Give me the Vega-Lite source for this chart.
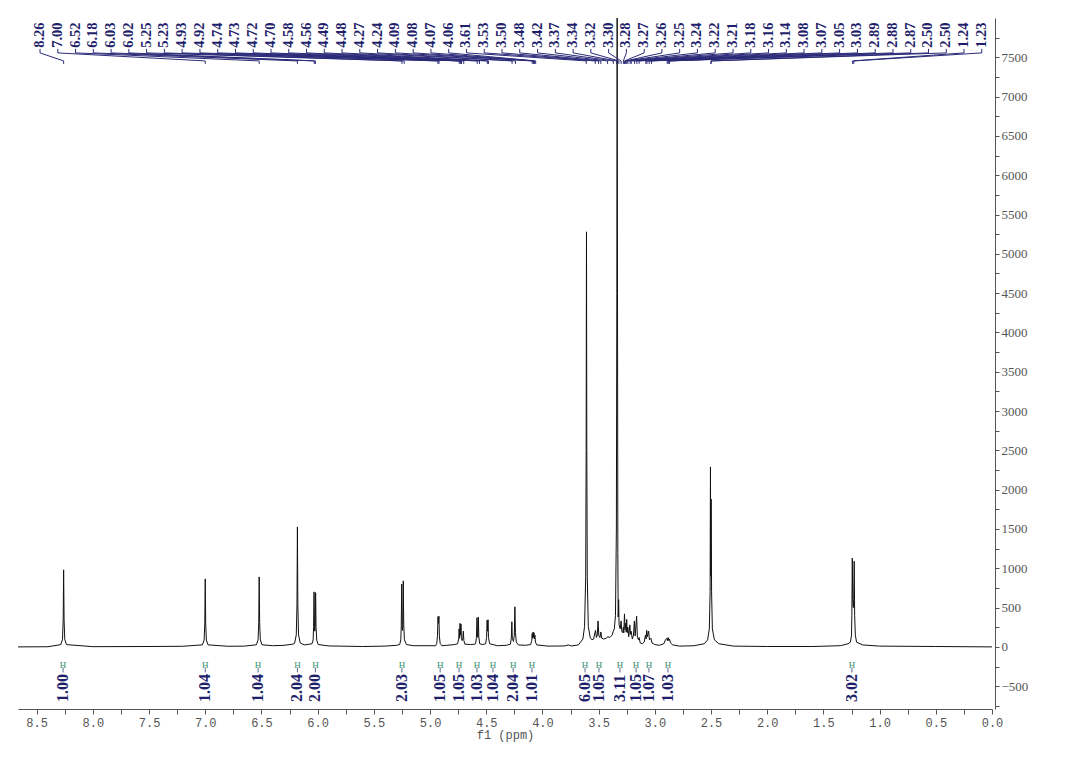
{
  "$schema": "https://vega.github.io/schema/vega-lite/v6.json",
  "width": 974,
  "height": 691,
  "autosize": {"type": "none"},
  "padding": {"left": 18, "top": 18, "right": 88, "bottom": 54},
  "background": "white",
  "config": {"view": {"stroke": null}},
  "resolve": {"axis": {"x": "independent", "y": "independent"}},
  "datasets": {
    "spec": [
      {"ppm": 8.666, "i": 0}, {"ppm": 8.4, "i": 2},
      {"ppm": 8.285, "i": 29}, {"ppm": 8.27, "i": 98}, {"ppm": 8.264, "i": 343}, {"ppm": 8.26, "i": 980}, {"ppm": 8.256, "i": 343}, {"ppm": 8.25, "i": 98}, {"ppm": 8.235, "i": 29},
      {"ppm": 8.0, "i": 3}, {"ppm": 7.5, "i": 5}, {"ppm": 7.2, "i": 8},
      {"ppm": 7.025, "i": 26}, {"ppm": 7.01, "i": 87}, {"ppm": 7.004, "i": 303}, {"ppm": 7.0, "i": 865}, {"ppm": 6.996, "i": 303}, {"ppm": 6.99, "i": 87}, {"ppm": 6.975, "i": 26},
      {"ppm": 6.8, "i": 8}, {"ppm": 6.65, "i": 10},
      {"ppm": 6.545, "i": 27}, {"ppm": 6.53, "i": 89}, {"ppm": 6.524, "i": 312}, {"ppm": 6.52, "i": 890}, {"ppm": 6.516, "i": 312}, {"ppm": 6.51, "i": 89}, {"ppm": 6.495, "i": 27},
      {"ppm": 6.4, "i": 15}, {"ppm": 6.3, "i": 20}, {"ppm": 6.22, "i": 35},
      {"ppm": 6.205, "i": 46}, {"ppm": 6.19, "i": 153}, {"ppm": 6.184, "i": 534}, {"ppm": 6.18, "i": 1526}, {"ppm": 6.176, "i": 534}, {"ppm": 6.17, "i": 153}, {"ppm": 6.155, "i": 50},
      {"ppm": 6.12, "i": 25}, {"ppm": 6.07, "i": 35},
      {"ppm": 6.05, "i": 40}, {"ppm": 6.04, "i": 90}, {"ppm": 6.036, "i": 260}, {"ppm": 6.032, "i": 700}, {"ppm": 6.028, "i": 250}, {"ppm": 6.025, "i": 200}, {"ppm": 6.022, "i": 250}, {"ppm": 6.018, "i": 690}, {"ppm": 6.014, "i": 245}, {"ppm": 6.008, "i": 85}, {"ppm": 5.995, "i": 30},
      {"ppm": 5.9, "i": 12}, {"ppm": 5.6, "i": 5}, {"ppm": 5.4, "i": 10}, {"ppm": 5.3, "i": 20},
      {"ppm": 5.27, "i": 30}, {"ppm": 5.26, "i": 90}, {"ppm": 5.256, "i": 270}, {"ppm": 5.252, "i": 800}, {"ppm": 5.248, "i": 270}, {"ppm": 5.245, "i": 210}, {"ppm": 5.242, "i": 280}, {"ppm": 5.238, "i": 840}, {"ppm": 5.234, "i": 290}, {"ppm": 5.228, "i": 90}, {"ppm": 5.21, "i": 30},
      {"ppm": 5.15, "i": 15}, {"ppm": 5.0, "i": 15},
      {"ppm": 4.95, "i": 15}, {"ppm": 4.94, "i": 45}, {"ppm": 4.934, "i": 140}, {"ppm": 4.929, "i": 385}, {"ppm": 4.925, "i": 300}, {"ppm": 4.921, "i": 390}, {"ppm": 4.917, "i": 140}, {"ppm": 4.91, "i": 45}, {"ppm": 4.895, "i": 15},
      {"ppm": 4.85, "i": 20}, {"ppm": 4.78, "i": 30},
      {"ppm": 4.755, "i": 40}, {"ppm": 4.745, "i": 100}, {"ppm": 4.741, "i": 230}, {"ppm": 4.737, "i": 110}, {"ppm": 4.733, "i": 300}, {"ppm": 4.729, "i": 150}, {"ppm": 4.725, "i": 290}, {"ppm": 4.721, "i": 120}, {"ppm": 4.715, "i": 80}, {"ppm": 4.708, "i": 110}, {"ppm": 4.704, "i": 200}, {"ppm": 4.699, "i": 80}, {"ppm": 4.69, "i": 35},
      {"ppm": 4.64, "i": 30}, {"ppm": 4.6, "i": 35},
      {"ppm": 4.595, "i": 40}, {"ppm": 4.587, "i": 120}, {"ppm": 4.582, "i": 370}, {"ppm": 4.578, "i": 150}, {"ppm": 4.574, "i": 120}, {"ppm": 4.57, "i": 380}, {"ppm": 4.566, "i": 130}, {"ppm": 4.558, "i": 40},
      {"ppm": 4.53, "i": 30},
      {"ppm": 4.505, "i": 40}, {"ppm": 4.497, "i": 120}, {"ppm": 4.492, "i": 340}, {"ppm": 4.488, "i": 200}, {"ppm": 4.484, "i": 345}, {"ppm": 4.48, "i": 120}, {"ppm": 4.47, "i": 40},
      {"ppm": 4.4, "i": 15}, {"ppm": 4.32, "i": 20},
      {"ppm": 4.285, "i": 35}, {"ppm": 4.277, "i": 110}, {"ppm": 4.272, "i": 320}, {"ppm": 4.268, "i": 110}, {"ppm": 4.258, "i": 70}, {"ppm": 4.25, "i": 150}, {"ppm": 4.245, "i": 510}, {"ppm": 4.24, "i": 180}, {"ppm": 4.232, "i": 60}, {"ppm": 4.215, "i": 25},
      {"ppm": 4.15, "i": 20},
      {"ppm": 4.105, "i": 30}, {"ppm": 4.095, "i": 80}, {"ppm": 4.091, "i": 170}, {"ppm": 4.087, "i": 110}, {"ppm": 4.083, "i": 190}, {"ppm": 4.079, "i": 120}, {"ppm": 4.075, "i": 180}, {"ppm": 4.071, "i": 100}, {"ppm": 4.067, "i": 150}, {"ppm": 4.062, "i": 60}, {"ppm": 4.05, "i": 25},
      {"ppm": 3.95, "i": 10}, {"ppm": 3.8, "i": 12}, {"ppm": 3.77, "i": 25}, {"ppm": 3.74, "i": 12}, {"ppm": 3.68, "i": 25},
      {"ppm": 3.64, "i": 100}, {"ppm": 3.625, "i": 260}, {"ppm": 3.615, "i": 900}, {"ppm": 3.611, "i": 2500}, {"ppm": 3.608, "i": 5280}, {"ppm": 3.605, "i": 2500}, {"ppm": 3.601, "i": 900}, {"ppm": 3.592, "i": 260}, {"ppm": 3.575, "i": 120},
      {"ppm": 3.56, "i": 90},
      {"ppm": 3.545, "i": 100}, {"ppm": 3.528, "i": 210}, {"ppm": 3.52, "i": 120}, {"ppm": 3.512, "i": 150}, {"ppm": 3.505, "i": 330}, {"ppm": 3.498, "i": 140}, {"ppm": 3.488, "i": 120}, {"ppm": 3.48, "i": 190}, {"ppm": 3.472, "i": 110}, {"ppm": 3.455, "i": 100},
      {"ppm": 3.43, "i": 110}, {"ppm": 3.42, "i": 130}, {"ppm": 3.4, "i": 120}, {"ppm": 3.38, "i": 150}, {"ppm": 3.37, "i": 200}, {"ppm": 3.36, "i": 230},
      {"ppm": 3.35, "i": 400}, {"ppm": 3.342, "i": 1500}, {"ppm": 3.338, "i": 4500}, {"ppm": 3.335, "i": 8200}, {"ppm": 3.332, "i": 4500}, {"ppm": 3.329, "i": 1200},
      {"ppm": 3.326, "i": 380}, {"ppm": 3.322, "i": 600}, {"ppm": 3.318, "i": 280}, {"ppm": 3.308, "i": 230}, {"ppm": 3.3, "i": 330}, {"ppm": 3.294, "i": 200}, {"ppm": 3.285, "i": 180}, {"ppm": 3.28, "i": 250}, {"ppm": 3.276, "i": 180}, {"ppm": 3.27, "i": 420}, {"ppm": 3.265, "i": 220}, {"ppm": 3.26, "i": 300}, {"ppm": 3.255, "i": 190}, {"ppm": 3.25, "i": 350}, {"ppm": 3.246, "i": 180}, {"ppm": 3.24, "i": 250}, {"ppm": 3.232, "i": 130}, {"ppm": 3.222, "i": 280}, {"ppm": 3.217, "i": 160}, {"ppm": 3.211, "i": 200}, {"ppm": 3.2, "i": 100}, {"ppm": 3.19, "i": 150}, {"ppm": 3.182, "i": 330}, {"ppm": 3.175, "i": 140}, {"ppm": 3.162, "i": 390}, {"ppm": 3.155, "i": 120}, {"ppm": 3.145, "i": 90}, {"ppm": 3.14, "i": 120}, {"ppm": 3.13, "i": 50}, {"ppm": 3.11, "i": 40}, {"ppm": 3.095, "i": 60}, {"ppm": 3.083, "i": 150}, {"ppm": 3.078, "i": 100}, {"ppm": 3.072, "i": 210}, {"ppm": 3.066, "i": 130}, {"ppm": 3.055, "i": 200}, {"ppm": 3.048, "i": 90}, {"ppm": 3.035, "i": 110}, {"ppm": 3.025, "i": 50}, {"ppm": 3.0, "i": 30}, {"ppm": 2.96, "i": 20},
      {"ppm": 2.92, "i": 40}, {"ppm": 2.905, "i": 90}, {"ppm": 2.893, "i": 110}, {"ppm": 2.888, "i": 80}, {"ppm": 2.882, "i": 120}, {"ppm": 2.876, "i": 80}, {"ppm": 2.87, "i": 100}, {"ppm": 2.86, "i": 50}, {"ppm": 2.84, "i": 25}, {"ppm": 2.78, "i": 10}, {"ppm": 2.65, "i": 15}, {"ppm": 2.56, "i": 40},
      {"ppm": 2.53, "i": 90}, {"ppm": 2.515, "i": 230}, {"ppm": 2.508, "i": 700}, {"ppm": 2.505, "i": 2290}, {"ppm": 2.502, "i": 900}, {"ppm": 2.499, "i": 1880}, {"ppm": 2.495, "i": 700}, {"ppm": 2.488, "i": 230}, {"ppm": 2.47, "i": 90}, {"ppm": 2.43, "i": 40},
      {"ppm": 2.3, "i": 10}, {"ppm": 2.0, "i": 5}, {"ppm": 1.6, "i": 5}, {"ppm": 1.35, "i": 15}, {"ppm": 1.28, "i": 40},
      {"ppm": 1.26, "i": 60}, {"ppm": 1.25, "i": 150}, {"ppm": 1.247, "i": 400}, {"ppm": 1.243, "i": 1130}, {"ppm": 1.239, "i": 600}, {"ppm": 1.234, "i": 500}, {"ppm": 1.23, "i": 600}, {"ppm": 1.226, "i": 1090}, {"ppm": 1.222, "i": 400}, {"ppm": 1.216, "i": 150}, {"ppm": 1.205, "i": 60},
      {"ppm": 1.15, "i": 25}, {"ppm": 1.0, "i": 10}, {"ppm": 0.5, "i": 5}, {"ppm": 0.0, "i": 0}
    ],
    "labels": [
      {"t": "8.26", "L": 8.470, "P": 8.26}, {"t": "7.00", "L": 8.312, "P": 7.00}, {"t": "6.52", "L": 8.154, "P": 6.52}, {"t": "6.18", "L": 7.996, "P": 6.18},
      {"t": "6.03", "L": 7.838, "P": 6.03}, {"t": "6.02", "L": 7.680, "P": 6.02}, {"t": "5.25", "L": 7.522, "P": 5.25}, {"t": "5.23", "L": 7.364, "P": 5.23},
      {"t": "4.93", "L": 7.206, "P": 4.93}, {"t": "4.92", "L": 7.047, "P": 4.92}, {"t": "4.74", "L": 6.889, "P": 4.74}, {"t": "4.73", "L": 6.731, "P": 4.73},
      {"t": "4.72", "L": 6.573, "P": 4.72}, {"t": "4.70", "L": 6.415, "P": 4.70}, {"t": "4.58", "L": 6.257, "P": 4.58}, {"t": "4.56", "L": 6.099, "P": 4.56},
      {"t": "4.49", "L": 5.941, "P": 4.49}, {"t": "4.48", "L": 5.783, "P": 4.48}, {"t": "4.27", "L": 5.625, "P": 4.27}, {"t": "4.24", "L": 5.467, "P": 4.24},
      {"t": "4.09", "L": 5.308, "P": 4.09}, {"t": "4.08", "L": 5.150, "P": 4.08}, {"t": "4.07", "L": 4.992, "P": 4.07}, {"t": "4.06", "L": 4.834, "P": 4.06},
      {"t": "3.61", "L": 4.676, "P": 3.61}, {"t": "3.53", "L": 4.518, "P": 3.53}, {"t": "3.50", "L": 4.360, "P": 3.50}, {"t": "3.48", "L": 4.202, "P": 3.48},
      {"t": "3.42", "L": 4.043, "P": 3.42}, {"t": "3.37", "L": 3.885, "P": 3.37}, {"t": "3.34", "L": 3.727, "P": 3.34}, {"t": "3.32", "L": 3.569, "P": 3.32},
      {"t": "3.30", "L": 3.411, "P": 3.30}, {"t": "3.28", "L": 3.253, "P": 3.28}, {"t": "3.27", "L": 3.095, "P": 3.27}, {"t": "3.26", "L": 2.937, "P": 3.26},
      {"t": "3.25", "L": 2.779, "P": 3.25}, {"t": "3.24", "L": 2.621, "P": 3.24}, {"t": "3.22", "L": 2.463, "P": 3.22}, {"t": "3.21", "L": 2.304, "P": 3.21},
      {"t": "3.18", "L": 2.146, "P": 3.18}, {"t": "3.16", "L": 1.988, "P": 3.16}, {"t": "3.14", "L": 1.830, "P": 3.14}, {"t": "3.08", "L": 1.672, "P": 3.08},
      {"t": "3.07", "L": 1.514, "P": 3.07}, {"t": "3.05", "L": 1.356, "P": 3.05}, {"t": "3.03", "L": 1.197, "P": 3.03}, {"t": "2.89", "L": 1.039, "P": 2.89},
      {"t": "2.88", "L": 0.881, "P": 2.88}, {"t": "2.87", "L": 0.723, "P": 2.87}, {"t": "2.50", "L": 0.565, "P": 2.50}, {"t": "2.50", "L": 0.407, "P": 2.50},
      {"t": "1.24", "L": 0.249, "P": 1.24}, {"t": "1.23", "L": 0.091, "P": 1.23}
    ],
    "integrals": [
      {"v": "1.00", "p": 8.265}, {"v": "1.04", "p": 7.0}, {"v": "1.04", "p": 6.53}, {"v": "2.04", "p": 6.18}, {"v": "2.00", "p": 6.02},
      {"v": "2.03", "p": 5.25}, {"v": "1.05", "p": 4.91}, {"v": "1.05", "p": 4.742}, {"v": "1.03", "p": 4.582}, {"v": "1.04", "p": 4.44},
      {"v": "2.04", "p": 4.26}, {"v": "1.01", "p": 4.093}, {"v": "6.05", "p": 3.621}, {"v": "1.05", "p": 3.497}, {"v": "3.11", "p": 3.31},
      {"v": "1.05", "p": 3.167}, {"v": "1.07", "p": 3.052}, {"v": "1.03", "p": 2.883}, {"v": "3.02", "p": 1.246}
    ]
  },
  "layer": [
    {
      "data": {"name": "spec"},
      "mark": {"type": "line", "color": "#111111", "strokeWidth": 1, "clip": true},
      "encoding": {
        "x": {
          "field": "ppm", "type": "quantitative", "title": "f1 (ppm)",
          "scale": {"domain": [0, 8.666], "reverse": true, "nice": false, "zero": false},
          "axis": {
            "values": [0, 0.25, 0.5, 0.75, 1, 1.25, 1.5, 1.75, 2, 2.25, 2.5, 2.75, 3, 3.25, 3.5, 3.75, 4, 4.25, 4.5, 4.75, 5, 5.25, 5.5, 5.75, 6, 6.25, 6.5, 6.75, 7, 7.25, 7.5, 7.75, 8, 8.25, 8.5],
            "labelExpr": "(datum.value * 2) % 1 == 0 ? format(datum.value, '.1f') : ''",
            "grid": false, "domainColor": "#555555", "tickColor": "#555555", "tickSize": 5,
            "labelFont": "Liberation Mono", "labelFontSize": 12, "labelColor": "#555555", "labelPadding": 3,
            "labelOverlap": false, "labelFlush": false,
            "titleFont": "Liberation Mono", "titleFontSize": 12, "titleFontWeight": "normal", "titleColor": "#555555", "titlePadding": 1
          }
        },
        "y": {
          "field": "i", "type": "quantitative", "title": null,
          "scale": {"domain": [-790, 8000], "nice": false, "zero": false},
          "axis": {
            "orient": "right", "offset": 3,
            "values": [-750, -500, -250, 0, 250, 500, 750, 1000, 1250, 1500, 1750, 2000, 2250, 2500, 2750, 3000, 3250, 3500, 3750, 4000, 4250, 4500, 4750, 5000, 5250, 5500, 5750, 6000, 6250, 6500, 6750, 7000, 7250, 7500, 7750],
            "labelExpr": "abs(datum.value) % 500 < 1 ? format(datum.value, 'd') : ''",
            "grid": false, "domainColor": "#555555", "tickColor": "#555555", "tickSize": 4,
            "labelFont": "Liberation Serif", "labelFontSize": 13, "labelColor": "#555555", "labelPadding": 2,
            "labelOverlap": false, "labelFlush": false, "labelBound": false, "title": null
          }
        }
      }
    },
    {
      "data": {"name": "labels"},
      "mark": {"type": "rule", "color": "#2a2a78", "strokeWidth": 1},
      "encoding": {
        "x": {"field": "L", "type": "quantitative", "axis": null, "scale": {"domain": [0, 8.666], "reverse": true, "nice": false, "zero": false}},
        "y": {"datum": 7607, "type": "quantitative", "axis": null, "scale": {"domain": [-790, 8000], "nice": false, "zero": false}},
        "y2": {"datum": 7556}
      }
    },
    {
      "data": {"name": "labels"},
      "mark": {"type": "rule", "color": "#2a2a78", "strokeWidth": 1},
      "encoding": {
        "x": {"field": "L", "type": "quantitative", "axis": null, "scale": {"domain": [0, 8.666], "reverse": true, "nice": false, "zero": false}},
        "x2": {"field": "P"},
        "y": {"datum": 7556, "type": "quantitative", "axis": null, "scale": {"domain": [-790, 8000], "nice": false, "zero": false}},
        "y2": {"datum": 7454}
      }
    },
    {
      "data": {"name": "labels"},
      "mark": {"type": "rule", "color": "#2a2a78", "strokeWidth": 1},
      "encoding": {
        "x": {"field": "P", "type": "quantitative", "axis": null, "scale": {"domain": [0, 8.666], "reverse": true, "nice": false, "zero": false}},
        "y": {"datum": 7454, "type": "quantitative", "axis": null, "scale": {"domain": [-790, 8000], "nice": false, "zero": false}},
        "y2": {"datum": 7416}
      }
    },
    {
      "data": {"name": "labels"},
      "mark": {"type": "text", "angle": 270, "align": "left", "baseline": "middle", "font": "Liberation Serif", "fontSize": 14.5, "fontWeight": "bold", "color": "#1f1f6b"},
      "encoding": {
        "x": {"field": "L", "type": "quantitative", "axis": null, "scale": {"domain": [0, 8.666], "reverse": true, "nice": false, "zero": false}},
        "y": {"datum": 7620, "type": "quantitative", "axis": null, "scale": {"domain": [-790, 8000], "nice": false, "zero": false}},
        "text": {"field": "t"}
      }
    },
    {
      "data": {"name": "integrals"},
      "mark": {"type": "text", "angle": 270, "align": "left", "baseline": "middle", "font": "Liberation Serif", "fontSize": 16, "fontWeight": "bold", "color": "#1f1f6b"},
      "encoding": {
        "x": {"field": "p", "type": "quantitative", "axis": null, "scale": {"domain": [0, 8.666], "reverse": true, "nice": false, "zero": false}},
        "y": {"datum": -700, "type": "quantitative", "axis": null, "scale": {"domain": [-790, 8000], "nice": false, "zero": false}},
        "text": {"field": "v"}
      }
    },
    {
      "data": {"name": "integrals"},
      "mark": {"type": "rule", "color": "#5a6a8a", "strokeWidth": 1},
      "encoding": {
        "x": {"field": "p", "type": "quantitative", "axis": null, "scale": {"domain": [0, 8.666], "reverse": true, "nice": false, "zero": false}},
        "y": {"datum": -262, "type": "quantitative", "axis": null, "scale": {"domain": [-790, 8000], "nice": false, "zero": false}},
        "y2": {"datum": -325}
      }
    },
    {
      "data": {"name": "integrals"},
      "mark": {"type": "text", "align": "center", "baseline": "middle", "font": "Liberation Serif", "fontSize": 9, "color": "#2f8f6f", "text": "H"},
      "encoding": {
        "x": {"field": "p", "type": "quantitative", "axis": null, "scale": {"domain": [0, 8.666], "reverse": true, "nice": false, "zero": false}},
        "y": {"datum": -225, "type": "quantitative", "axis": null, "scale": {"domain": [-790, 8000], "nice": false, "zero": false}}
      }
    }
  ]
}
